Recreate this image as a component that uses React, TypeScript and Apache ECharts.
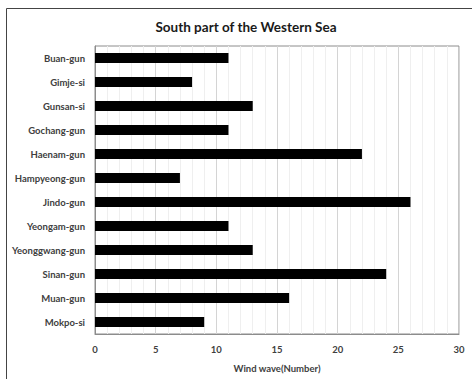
import React, { useEffect, useRef } from "react";
import * as echarts from "echarts";

const categories = [
  "Buan-gun",
  "Gimje-si",
  "Gunsan-si",
  "Gochang-gun",
  "Haenam-gun",
  "Hampyeong-gun",
  "Jindo-gun",
  "Yeongam-gun",
  "Yeonggwang-gun",
  "Sinan-gun",
  "Muan-gun",
  "Mokpo-si",
];
const windWave = [11, 8, 13, 11, 22, 7, 26, 11, 13, 24, 16, 9];
const titleText = "South part of the Western Sea";
const xAxisName = "Wind wave(Number)";

export default function App() {
  const ref = useRef<HTMLDivElement>(null);
  useEffect(() => {
    if (!ref.current) return;
    const chart = echarts.init(ref.current, null, { renderer: "svg" });
    chart.setOption({
      animation: false,
      backgroundColor: "#ffffff",
      title: {
        text: titleText,
        left: 241,
        textAlign: "center",
        top: 15,
        textStyle: { fontFamily: "Lato", fontWeight: "bold", fontSize: 13.5, color: "#1a1a1a" },
      },
      graphic: [
        {
          type: "rect",
          shape: { x: 6.5, y: 8.5, width: 480, height: 380 },
          style: { fill: "none", stroke: "#444", lineWidth: 1 },
          silent: true,
        },
      ],
      grid: {
        left: 95,
        right: 13,
        top: 46,
        bottom: 45,
        show: true,
        borderColor: "#8c8c8c",
        borderWidth: 1,
      },
      xAxis: {
        type: "value",
        min: 0,
        max: 30,
        interval: 5,
        name: xAxisName,
        nameLocation: "middle",
        nameGap: 29,
        nameTextStyle: { fontFamily: "Lato", fontWeight: "bold", fontSize: 9.5, color: "#404040" },
        axisLine: { show: true, lineStyle: { color: "#8c8c8c" } },
        axisTick: { show: false },
        axisLabel: { fontFamily: "Lato", fontWeight: "bold", fontSize: 9.5, color: "#404040", margin: 10 },
        splitLine: { show: true, lineStyle: { color: "#d4d4d4", width: 1 } },
        minorTick: { show: false, splitNumber: 5 },
        minorSplitLine: { show: true, lineStyle: { color: "#efefef", width: 1 } },
      },
      yAxis: {
        type: "category",
        data: categories,
        inverse: true,
        axisLine: { show: true, lineStyle: { color: "#8c8c8c" } },
        axisTick: { show: false },
        axisLabel: { fontFamily: "Lato", fontWeight: "bold", fontSize: 9.5, color: "#404040", margin: 10 },
        splitLine: { show: false },
      },
      series: [
        {
          type: "bar",
          data: windWave,
          barWidth: 10,
          itemStyle: { color: "#000000" },
        },
      ],
    });
    return () => chart.dispose();
  }, []);
  return <div ref={ref} style={{ width: 472, height: 379, position: "absolute", left: 0, top: 0 }} />;
}
